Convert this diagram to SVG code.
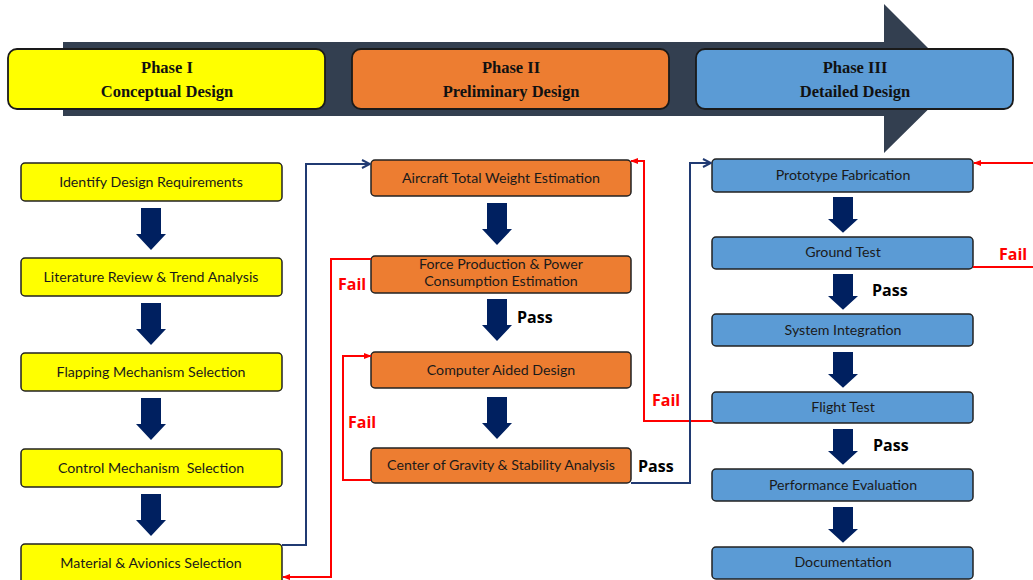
<svg xmlns="http://www.w3.org/2000/svg" width="1033" height="580" viewBox="0 0 1033 580">
<defs>
<style>
.ph{stroke:#1a1a1a;stroke-width:1.8}
.pt{font-family:"Liberation Serif",serif;font-weight:bold;font-size:16.5px;fill:#111;text-anchor:middle}
.bx{stroke:#222;stroke-width:1.5}
.y{fill:#FFFF00}.o{fill:#ED7D31}.b{fill:#5B9BD5}
.t{font-family:Lato,"Open Sans",sans-serif;font-size:14.2px;fill:#1a1a1a;text-anchor:middle;white-space:pre}
.ba{fill:#002060}
.lb{fill:none;stroke:#203A72;stroke-width:2}
.lr{fill:none;stroke:#FF0000;stroke-width:2}
.pass{font-family:"Open Sans",sans-serif;font-weight:bold;font-size:16px;fill:#000}
.fail{font-family:"Open Sans",sans-serif;font-weight:bold;font-size:16px;fill:#FF0000}
</style>
<marker id="mb" viewBox="0 0 10 10" refX="9" refY="5" markerWidth="10" markerHeight="10" markerUnits="userSpaceOnUse" orient="auto">
<path d="M1,1 L9,5 L1,9" fill="none" stroke="#203A72" stroke-width="2"/>
</marker>
<marker id="mr" viewBox="0 0 10 10" refX="9" refY="5" markerWidth="8" markerHeight="8" markerUnits="userSpaceOnUse" orient="auto">
<path d="M0,1 L10,5 L0,9 Z" fill="#FF0000"/>
</marker>
<path id="da" d="M-10,0 H10 V26 H15 L0,42 L-15,26 H-10 Z"/>
</defs>
<rect width="1033" height="580" fill="#fff"/>

<g id="banner">
<path d="M63,42 H884 V4 L959,79 L884,153 V116 H63 Z" fill="#333F50"/>
</g>
<g id="phase1">
<rect class="ph y" x="8" y="49" width="317" height="60" rx="9"/>
<text class="pt" x="167" y="73">Phase I</text>
<text class="pt" x="167" y="97">Conceptual Design</text>
</g>
<g id="phase2">
<rect class="ph o" x="352" y="49" width="317" height="60" rx="9"/>
<text class="pt" x="511" y="73">Phase II</text>
<text class="pt" x="511" y="97">Preliminary Design</text>
</g>
<g id="phase3">
<rect class="ph b" x="696" y="49" width="317" height="60" rx="9"/>
<text class="pt" x="855" y="73">Phase III</text>
<text class="pt" x="855" y="97">Detailed Design</text>
</g>

<g id="flow-arrows">
<use href="#da" class="ba" x="151" y="208"/>
<use href="#da" class="ba" x="151" y="303"/>
<use href="#da" class="ba" x="151" y="398"/>
<use href="#da" class="ba" x="151" y="494"/>
<use href="#da" class="ba" x="497" y="203"/>
<use href="#da" class="ba" x="497" y="299"/>
<use href="#da" class="ba" x="497" y="397"/>
<g transform="translate(843,197) scale(1,0.85)"><use href="#da" class="ba"/></g>
<g transform="translate(843,274) scale(1,0.85)"><use href="#da" class="ba"/></g>
<g transform="translate(843,352) scale(1,0.85)"><use href="#da" class="ba"/></g>
<g transform="translate(843,429) scale(1,0.85)"><use href="#da" class="ba"/></g>
<g transform="translate(843,507) scale(1,0.85)"><use href="#da" class="ba"/></g>
</g>

<g id="n1"><rect class="bx y" x="21" y="163" width="261" height="38" rx="4"/><text class="t" x="151" y="187">Identify Design Requirements</text></g>
<g id="n2"><rect class="bx y" x="21" y="258" width="261" height="38" rx="4"/><text class="t" x="151" y="282">Literature Review &amp; Trend Analysis</text></g>
<g id="n3"><rect class="bx y" x="21" y="353" width="261" height="38" rx="4"/><text class="t" x="151" y="377">Flapping Mechanism Selection</text></g>
<g id="n4"><rect class="bx y" x="21" y="449" width="261" height="38" rx="4"/><text class="t" x="151" y="473" xml:space="preserve">Control Mechanism  Selection</text></g>
<g id="n5"><rect class="bx y" x="21" y="544" width="261" height="40" rx="4"/><text class="t" x="151" y="568">Material &amp; Avionics Selection</text></g>

<g id="n6"><rect class="bx o" x="371" y="160" width="260" height="36" rx="4"/><text class="t" x="501" y="183">Aircraft Total Weight Estimation</text></g>
<g id="n7"><rect class="bx o" x="371" y="256" width="260" height="37" rx="4"/><text class="t" x="501" y="269">Force Production &amp; Power</text><text class="t" x="501" y="286">Consumption Estimation</text></g>
<g id="n8"><rect class="bx o" x="371" y="352" width="260" height="36" rx="4"/><text class="t" x="501" y="375">Computer Aided Design</text></g>
<g id="n9"><rect class="bx o" x="371" y="448" width="260" height="35" rx="4"/><text class="t" x="501" y="470">Center of Gravity &amp; Stability Analysis</text></g>

<g id="n10"><rect class="bx b" x="712" y="159" width="261" height="33" rx="4"/><text class="t" x="843" y="180">Prototype Fabrication</text></g>
<g id="n11"><rect class="bx b" x="712" y="237" width="261" height="32" rx="4"/><text class="t" x="843" y="257">Ground Test</text></g>
<g id="n12"><rect class="bx b" x="712" y="314" width="261" height="32" rx="4"/><text class="t" x="843" y="335">System Integration</text></g>
<g id="n13"><rect class="bx b" x="712" y="392" width="261" height="31" rx="4"/><text class="t" x="843" y="412">Flight Test</text></g>
<g id="n14"><rect class="bx b" x="712" y="469" width="261" height="32" rx="4"/><text class="t" x="843" y="490">Performance Evaluation</text></g>
<g id="n15"><rect class="bx b" x="712" y="547" width="261" height="32" rx="4"/><text class="t" x="843" y="567">Documentation</text></g>

<g id="connectors">
<path class="lb" d="M282,545 H306 V164 H370" marker-end="url(#mb)"/>
<path class="lr" d="M371,259 H331 V577 H283" marker-end="url(#mr)"/>
<path class="lr" d="M371,480 H343 V356 H371" marker-end="url(#mr)"/>
<path class="lr" d="M712,421 H644 V161 H631" marker-end="url(#mr)"/>
<path class="lb" d="M631,483 H690 V163 H711" marker-end="url(#mb)"/>
<path class="lr" d="M973,267 H1045 V163 H974" marker-end="url(#mr)"/>
</g>

<g id="labels">
<text class="pass" x="517" y="323">Pass</text>
<text class="pass" x="638" y="472">Pass</text>
<text class="pass" x="872" y="296">Pass</text>
<text class="pass" x="873" y="451">Pass</text>
<text class="fail" x="338" y="290">Fail</text>
<text class="fail" x="348" y="428">Fail</text>
<text class="fail" x="652" y="406">Fail</text>
<text class="fail" x="999" y="260">Fail</text>
</g>
</svg>
